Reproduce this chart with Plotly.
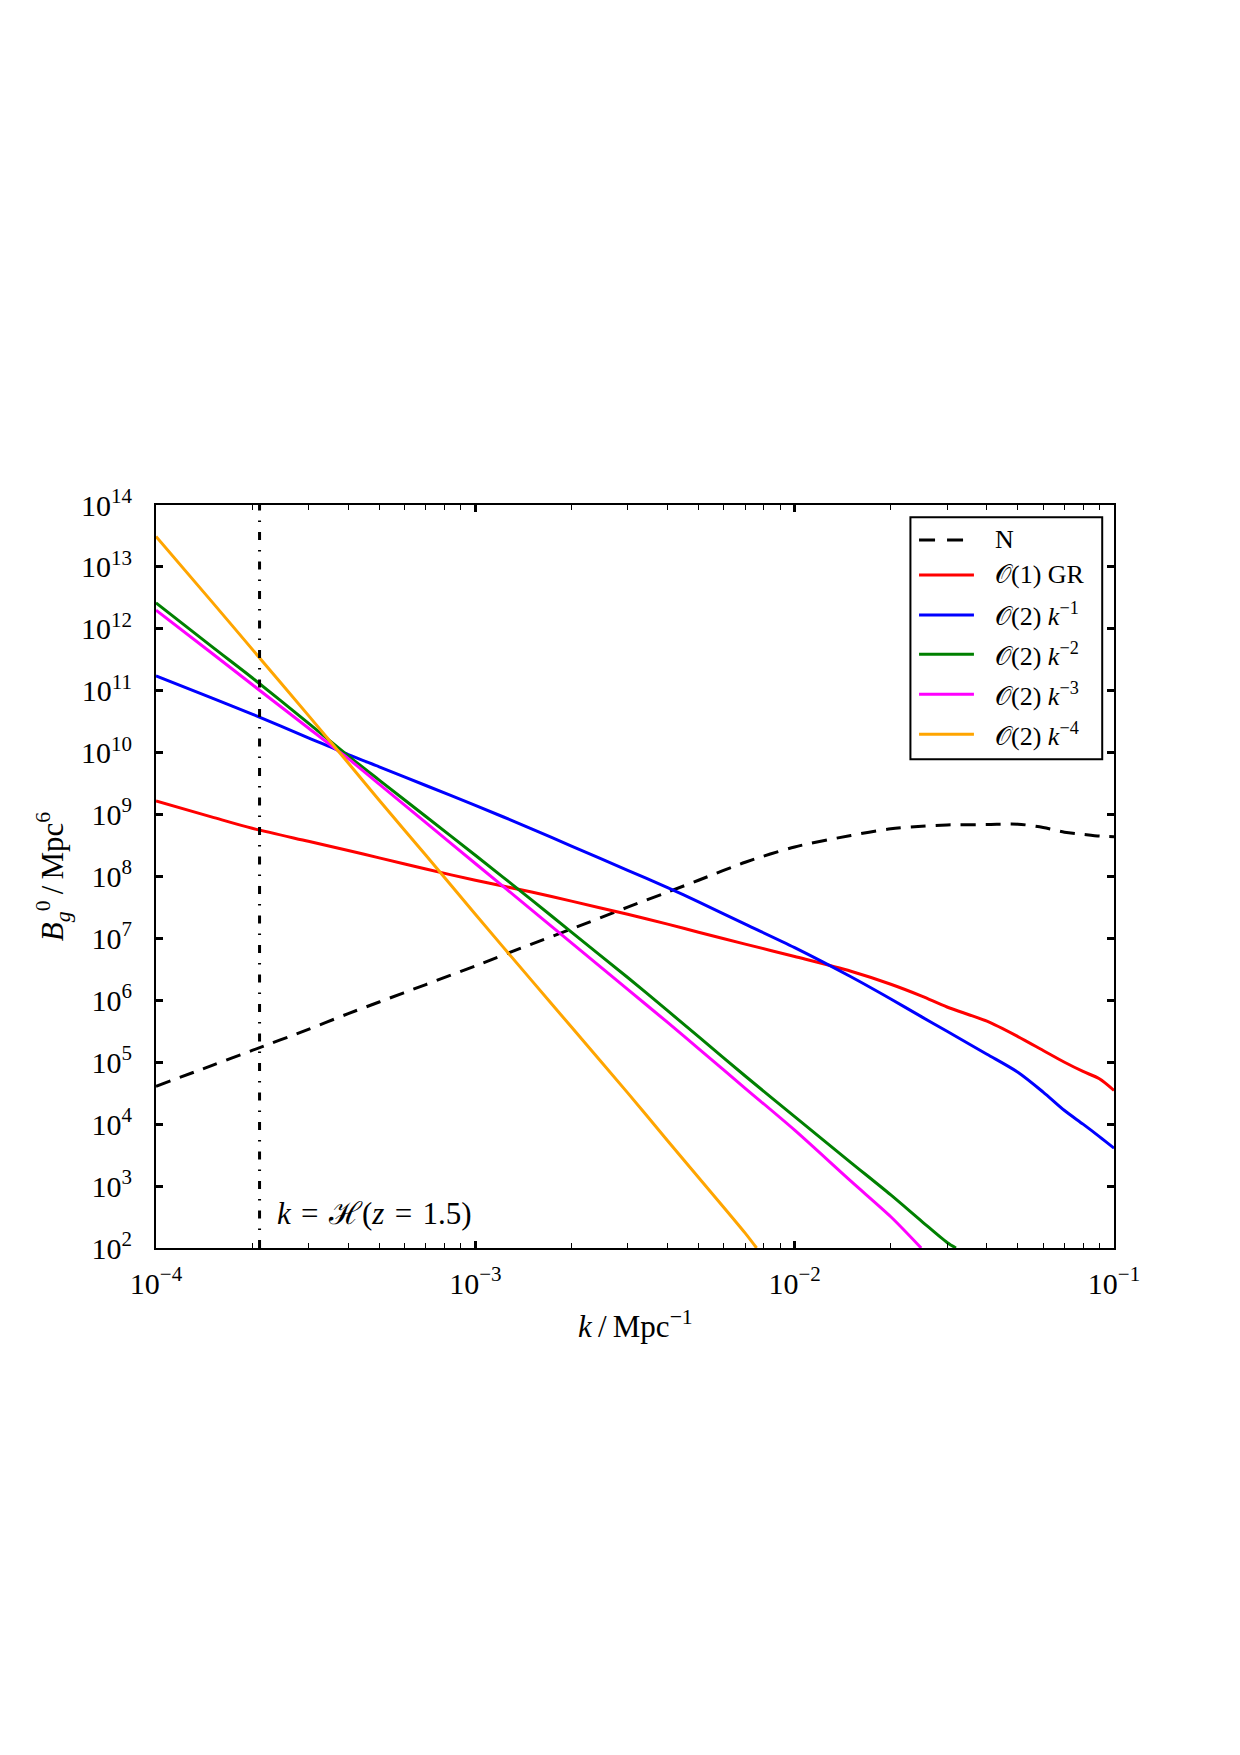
import plotly.graph_objects as go

# ---------------- data ----------------
# wavenumber grid k / Mpc^-1
k = [1e-4, 1.5e-4, 2e-4, 3e-4, 4e-4, 5e-4, 7e-4, 1e-3, 1.5e-3, 2e-3, 3e-3, 4e-3, 5e-3, 7e-3,
     1e-2, 1.5e-2, 2e-2, 2.5e-2, 3e-2, 4e-2, 5e-2, 6e-2, 7e-2, 8e-2, 9e-2, 1e-1]

B_newtonian = [4.1e4, 8.9e4, 1.55e5, 3.4e5, 6.1e5, 9.4e5, 1.8e6, 3.6e6, 8.1e6, 1.42e7, 3.2e7, 5.6e7,
               8.7e7, 1.7e8, 3.0e8, 4.6e8, 5.9e8, 6.5e8, 6.8e8, 6.9e8, 7.0e8, 6.2e8, 5.2e8, 4.8e8,
               4.5e8, 4.4e8]

B_gr = [1.66e9, 9.1e8, 6.0e8, 3.7e8, 2.63e8, 2.0e8, 1.32e8, 8.7e7, 5.6e7, 4.0e7, 2.45e7, 1.70e7,
        1.26e7, 8.1e6, 5.1e6, 2.95e6, 1.82e6, 1.17e6, 7.8e5, 4.6e5, 2.6e5, 1.55e5, 1.0e5, 7.1e4,
        5.4e4, 3.5e4]

B_k1 = [1.74e11, 7.6e10, 4.2e10, 1.74e10, 9.3e9, 5.9e9, 2.95e9, 1.41e9, 5.9e8, 3.1e8, 1.26e8,
        6.6e7, 3.9e7, 1.70e7, 7.1e6, 2.4e6, 1.05e6, 5.4e5, 3.16e5, 1.35e5, 6.9e4, 3.3e4, 1.66e4,
        1.0e4, 6.3e3, 4.1e3]

k_k2 = [1e-4, 1.5e-4, 2e-4, 3e-4, 4e-4, 5e-4, 7e-4, 1e-3, 1.5e-3, 2e-3, 3e-3, 4e-3, 5e-3, 7e-3,
        1e-2, 1.5e-2, 2e-2, 2.5e-2, 3e-2, 3.2e-2]
B_k2 = [2.63e12, 5.1e11, 1.62e11, 3.0e10, 8.9e9, 3.6e9, 9.3e8, 2.2e8, 4.2e7, 1.26e7, 2.34e6, 6.8e5,
        2.6e5, 6.0e4, 1.32e4, 2.4e3, 7.2e2, 2.7e2, 1.23e2, 1.0e2]

k_k3 = [1e-4, 1.5e-4, 2e-4, 3e-4, 4e-4, 5e-4, 7e-4, 1e-3, 1.5e-3, 2e-3, 3e-3, 4e-3, 5e-3, 7e-3,
        1e-2, 1.5e-2, 2e-2, 2.49e-2]
B_k3 = [2.0e12, 4.0e11, 1.26e11, 2.5e10, 8.0e9, 3.1e9, 7.4e8, 1.62e8, 2.9e7, 8.5e6, 1.5e6, 4.4e5,
        1.66e5, 3.8e4, 8.0e3, 1.2e3, 3.2e2, 1.0e2]

k_k4 = [1e-4, 1.5e-4, 2e-4, 3e-4, 4e-4, 5e-4, 7e-4, 1e-3, 1.5e-3, 2e-3, 3e-3, 4e-3, 5e-3, 7e-3,
        7.6e-3]
B_k4 = [3.1e13, 2.7e12, 4.7e11, 4.0e10, 6.8e9, 1.7e9, 2.2e8, 2.45e7, 2.1e6, 3.7e5, 3.2e4, 5.4e3,
        1.38e3, 1.74e2, 1.0e2]

k_horizon = 2.11e-4          # k = H(z = 1.5)
y_limits = [1e2, 1e14]

x_tickvals = [1e-4, 1e-3, 1e-2, 1e-1]
x_ticktext = ["10<sup>\u22124</sup>", "10<sup>\u22123</sup>", "10<sup>\u22122</sup>", "10<sup>\u22121</sup>"]
y_tickvals = [1e2, 1e3, 1e4, 1e5, 1e6, 1e7, 1e8, 1e9, 1e10, 1e11, 1e12, 1e13, 1e14]
y_ticktext = ["10<sup>%d</sup>" % e for e in range(2, 15)]

# name, x, y, colour, dash in plot, dash in legend, width
series = [
    ("N", k, B_newtonian, "black", "15px,10px", "16px,12px", 3.0),
    ("\U0001D4AA(1) GR", k, B_gr, "#ff0000", "solid", "solid", 3.0),
    ("\U0001D4AA(2) <i>k</i><sup>\u22121</sup>", k, B_k1, "#0000ff", "solid", "solid", 3.0),
    ("\U0001D4AA(2) <i>k</i><sup>\u22122</sup>", k_k2, B_k2, "#008000", "solid", "solid", 3.0),
    ("\U0001D4AA(2) <i>k</i><sup>\u22123</sup>", k_k3, B_k3, "#ff00ff", "solid", "solid", 3.0),
    ("\U0001D4AA(2) <i>k</i><sup>\u22124</sup>", k_k4, B_k4, "#ffa500", "solid", "solid", 3.0),
]

FONT = "Liberation Serif, DejaVu Serif, serif"
TICK_SIZE = 30

fig = go.Figure()
for name, xs, ys, color, dash, ldash, w in series:
    fig.add_trace(go.Scatter(x=xs, y=ys, mode="lines", name=name, showlegend=False,
                             line=dict(color=color, width=w, dash=dash, shape="spline", smoothing=0.8)))

# vertical dash-dot line at k = H(z=1.5)
fig.add_trace(go.Scatter(x=[k_horizon, k_horizon], y=y_limits, mode="lines", showlegend=False,
                         line=dict(color="black", width=3, dash="8px,10px,1.5px,10px")))

# ---------------- manual legend ----------------
shapes = [dict(type="rect", xref="paper", yref="paper", x0=0.7875, x1=0.9877, y0=0.6577, y1=0.9835,
               line=dict(color="black", width=2), fillcolor="white", layer="above")]
annotations = []
legend_y = [0.9529, 0.9058, 0.8520, 0.7991, 0.7453, 0.6914]
for (name, xs, ys, color, dash, ldash, w), ly in zip(series, legend_y):
    shapes.append(dict(type="line", xref="paper", yref="paper", x0=0.7965, x1=0.8538, y0=ly, y1=ly,
                       line=dict(color=color, width=w, dash=ldash), layer="above"))
    annotations.append(dict(xref="paper", yref="paper", x=0.8736, y=ly, text=name, showarrow=False,
                            xanchor="left", yanchor="middle", font=dict(family=FONT, size=26, color="black")))

annotations.append(dict(xref="paper", yref="paper", x=0.1246, y=0.0471,
                        text="<i>k</i>\u2004=\u2004\u210B(<i>z</i>\u2004=\u20041.5)", showarrow=False,
                        xanchor="left", yanchor="middle", font=dict(family=FONT, size=31, color="black")))
annotations.append(dict(xref="paper", yref="paper", x=0.5, y=-0.1023,
                        text="<i>k</i>\u2009/\u2009Mpc<sup>\u22121</sup>", showarrow=False,
                        xanchor="center", yanchor="middle", font=dict(family=FONT, size=31, color="black")))
annotations.append(dict(xref="paper", yref="paper", x=-0.1079, y=0.5, textangle=-90,
                        text="<i>B</i><sub><i>g</i></sub><sup>0</sup>\u2009/\u2009Mpc<sup>6</sup>", showarrow=False,
                        xanchor="center", yanchor="middle", font=dict(family=FONT, size=31, color="black")))

fig.update_layout(
    width=1240, height=1755, autosize=False,
    margin=dict(l=155.5, r=125.5, t=505, b=507, pad=0),
    paper_bgcolor="white", plot_bgcolor="white",
    font=dict(family=FONT, size=TICK_SIZE, color="black"),
    shapes=shapes, annotations=annotations,
    showlegend=False,
)

minor_x = [m * 10 ** e for e in range(-4, -1) for m in range(2, 10)]

fig.update_xaxes(type="log", range=[-4, -1], showgrid=False, zeroline=False,
                 showline=True, linecolor="black", linewidth=2, mirror="ticks",
                 tickmode="array", tickvals=x_tickvals, ticktext=x_ticktext,
                 ticks="inside", ticklen=7, tickwidth=3, tickcolor="black",
                 ticklabelstandoff=8,
                 minor=dict(tickmode="array", tickvals=minor_x, ticks="inside", ticklen=5,
                            tickwidth=1, tickcolor="black", showgrid=False),
                 tickfont=dict(family=FONT, size=TICK_SIZE, color="black"))
fig.update_yaxes(type="log", range=[2, 14], showgrid=False, zeroline=False,
                 showline=True, linecolor="black", linewidth=2, mirror="ticks",
                 tickmode="array", tickvals=y_tickvals, ticktext=y_ticktext,
                 ticks="inside", ticklen=7, tickwidth=3, tickcolor="black",
                 ticklabelstandoff=16,
                 tickfont=dict(family=FONT, size=TICK_SIZE, color="black"))

fig.write_html("out.html", config={"displayModeBar": False})
